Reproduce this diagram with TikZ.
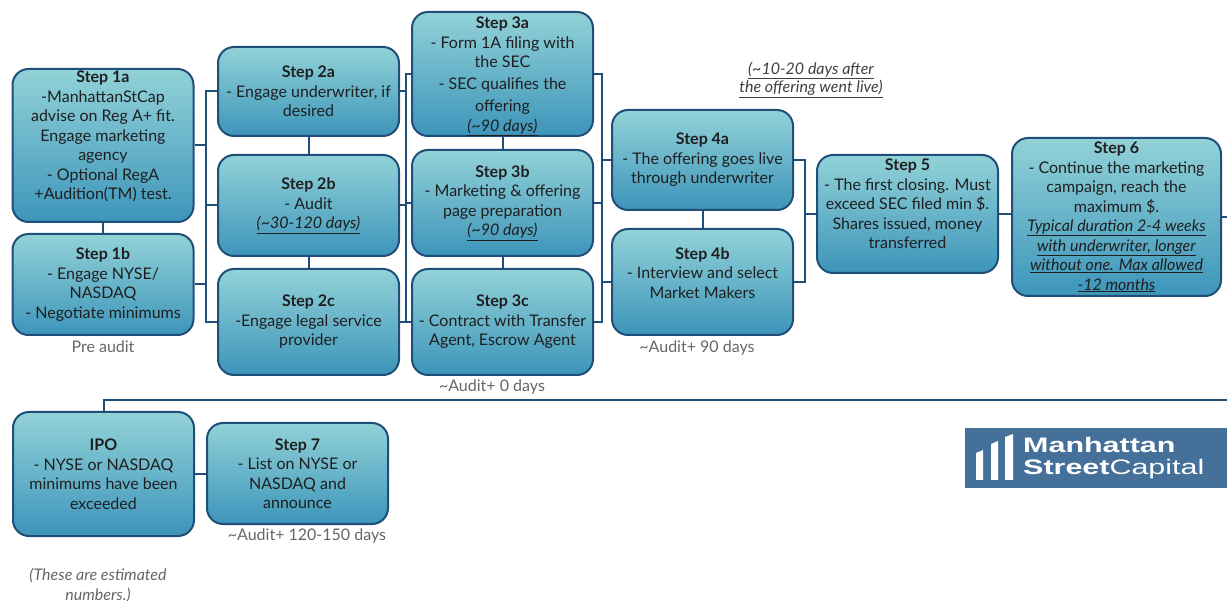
\documentclass[tikz,border=0pt]{standalone}
\usepackage{fontspec}
\setmainfont{Lato}
\newfontfamily\logofont{Liberation Sans}
\usepackage{graphicx}
\usetikzlibrary{positioning,calc}
\definecolor{stepline}{HTML}{1F4E79}
\definecolor{steptop}{HTML}{92D2D8}
\definecolor{stepbot}{HTML}{3D95BA}
\definecolor{notegray}{HTML}{666666}
\definecolor{logoblue}{HTML}{44709A}

\begin{document}
\begin{tikzpicture}[x=1pt, y=-1pt,
  stepbox/.style={draw=stepline, line width=2pt, rounded corners=16pt,
    top color=steptop, bottom color=stepbot, inner sep=0pt, minimum width=181pt},
  steptext/.style={align=center, text=black!88, inner sep=0pt,
    font=\fontsize{16}{19.5}\selectfont},
  link/.style={draw=stepline, line width=2pt},
  note/.style={align=center, text=notegray, inner sep=0pt,
    font=\fontsize{16}{19.5}\selectfont}]

\useasboundingbox (0,0) rectangle (1227,601);
\clip (0,0) rectangle (1227,601);

%% === Column 1 ===
\node[stepbox, minimum height=153pt] (s1a) at (103,145.5) {};
\node[steptext] (s1a-t) at ([yshift=9pt]s1a.center)
  {\textbf{Step 1a}\\-ManhattanStCap\\advise on Reg A+ fit.\\Engage marketing\\agency\\- Optional RegA\\+Audition(TM) test.};
\node[stepbox, minimum height=101pt] (s1b) at (103,284.5) {};
\node[steptext] (s1b-t) at (s1b) {\textbf{Step 1b}\\- Engage NYSE/\\NASDAQ\\- Negotiate minimums};
\node[note] (pre) at (103,347) {Pre audit};

%% === Column 2 ===
\node[stepbox, minimum height=89pt] (s2a) at (308.5,91.5) {};
\node[steptext] (s2a-t) at (s2a) {\textbf{Step 2a}\\- Engage underwriter, if\\desired};
\node[stepbox, minimum height=101pt] (s2b) at (308.5,205.5) {};
\node[steptext] (s2b-t) at (s2b) {\textbf{Step 2b}\\- Audit\\\underline{\textit{(\textasciitilde30-120 days)}}};
\node[stepbox, minimum height=106pt] (s2c) at (308.5,322) {};
\node[steptext] (s2c-t) at (s2c) {\textbf{Step 2c}\\-Engage legal service\\provider};

%% === Column 3 ===
\node[stepbox, minimum height=124pt] (s3a) at (502.5,74) {};
\node[steptext] (s3a-t) at ([yshift=-2.5pt]s3a.center) {\textbf{Step 3a}\\- Form 1A filing with\\the SEC\\[2.5pt]- SEC qualifies the\\[2.5pt]offering\\\underline{\textit{(\textasciitilde90 days)}}};
\node[stepbox, minimum height=106pt] (s3b) at (502.5,203) {};
\node[steptext] (s3b-t) at (s3b) {\textbf{Step 3b}\\- Marketing \& offering\\page preparation\\\underline{\textit{(\textasciitilde90 days)}}};
\node[stepbox, minimum height=106pt] (s3c) at (502.5,322) {};
\node[steptext] (s3c-t) at (s3c) {\textbf{Step 3c}\\- Contract with Transfer\\Agent, Escrow Agent};
\node[note] (aud0) at (492,387) {\textasciitilde Audit+ 0 days};

%% === Column 4 ===
\node[stepbox, minimum height=100pt] (s4a) at (702.5,160) {};
\node[steptext] (s4a-t) at (s4a) {\textbf{Step 4a}\\- The offering goes live\\through underwriter};
\node[stepbox, minimum height=106pt] (s4b) at (702.5,282) {};
\node[steptext] (s4b-t) at ([yshift=9pt]s4b.center) {\textbf{Step 4b}\\- Interview and select\\Market Makers};
\node[note] (aud90) at (697,348) {\textasciitilde Audit+ 90 days};
\node[note, text=black!75, font=\fontsize{16}{18.5}\selectfont\itshape] (live) at (811,80)
  {\underline{(\textasciitilde10-20 days after}\\\underline{the offering went live)}};

%% === Steps 5 and 6 ===
\node[stepbox, minimum height=118pt] (s5) at (907.5,214) {};
\node[steptext] (s5-t) at ([yshift=10pt]s5.center) {\textbf{Step 5}\\- The first closing. Must\\exceed SEC filed min \$.\\Shares issued, money\\transferred};
\node[stepbox, minimum width=209pt, minimum height=158pt] (s6) at (1116.5,217) {};
\node[steptext] (s6-t) at (s6) {\textbf{Step 6}\\- Continue the marketing\\campaign, reach the\\maximum \$.\\
  \underline{\textit{Typical duration 2-4 weeks}}\\\underline{\textit{with underwriter, longer}}\\\underline{\textit{without one. Max allowed}}\\\underline{\textit{-12 months}}};

%% === Bottom row ===
\node[stepbox, minimum height=124pt] (ipo) at (103.5,474) {};
\node[steptext] (ipo-t) at (ipo) {\textbf{IPO}\\- NYSE or NASDAQ\\minimums have been\\exceeded};
\node[stepbox, minimum height=101pt] (s7) at (297.5,473.5) {};
\node[steptext] (s7-t) at (s7) {\textbf{Step 7}\\- List on NYSE or\\NASDAQ and\\announce};
\node[note] (aud120) at (307,536) {\textasciitilde Audit+ 120-150 days};
\node[note, font=\fontsize{16}{20}\selectfont\itshape] (est) at (98,585) {(These are estimated\\numbers.)};

%% === Connectors ===
% links inside a column
\foreach \a/\b in {s1a/s1b, s2a/s2b, s2b/s2c, s3a/s3b, s3b/s3c, s4a/s4b}
  \draw[link] (\a.south) -- (\b.north);
% bars between the columns
\coordinate (barA) at (206,0);
\coordinate (barB) at (406,0);
\coordinate (barC) at (602,0);
\coordinate (barD) at (805,0);
\draw[link] (s2a.west) -| (barA |- s2c.west) -- (s2c.west);
\foreach \n/\side in {s1a/east, s1b/east, s2b/west}
  \draw[link] (\n.\side) -- (barA |- \n.\side);
\draw[link] (s3a.west) -| (barB |- s3c.west) -- (s3c.west);
\foreach \n/\side in {s2a/east, s2b/east, s2c/east, s3b/west}
  \draw[link] (\n.\side) -- (barB |- \n.\side);
\draw[link] (s3a.east) -| (barC |- s3c.east) -- (s3c.east);
\foreach \n/\side in {s3b/east, s4a/west, s4b/west}
  \draw[link] (\n.\side) -- (barC |- \n.\side);
\draw[link] (s4a.east) -| (barD |- s4b.east) -- (s4b.east);
\draw[link] (s5.west) -- (barD |- s5.west);
\draw[link] (s5.east) -- (s5.east -| s6.west);
% return line to the IPO row
\coordinate (edge) at (1240,0);
\coordinate (back) at (0,400);
\draw[link] (s6.east) -| (edge |- back) -| (ipo.north);
\draw[link] (ipo.east) -- (ipo.east -| s7.west);

%% === Logo ===
\fill[logoblue] (965,428) rectangle (1240,488);
\fill[white] (976,480) -- (983,480) -- (983,450) -- (976,453) -- cycle;
\fill[white] (991,480) -- (998,480) -- (998,441) -- (991,444) -- cycle;
\fill[white] (1005,480) -- (1013,480) -- (1013,434) -- (1005,437) -- cycle;
\node[anchor=base west, inner sep=0pt, text=white, font=\logofont\fontsize{21}{21}\selectfont] (logo1) at (1023,453)
  {\scalebox{1.45}[1]{\textbf{Manhattan}}};
\node[anchor=base west, inner sep=0pt, text=white, font=\logofont\fontsize{21}{21}\selectfont] (logo2) at (1023,475)
  {\scalebox{1.45}[1]{\textbf{Street}Capital}};

\end{tikzpicture}
\end{document}
